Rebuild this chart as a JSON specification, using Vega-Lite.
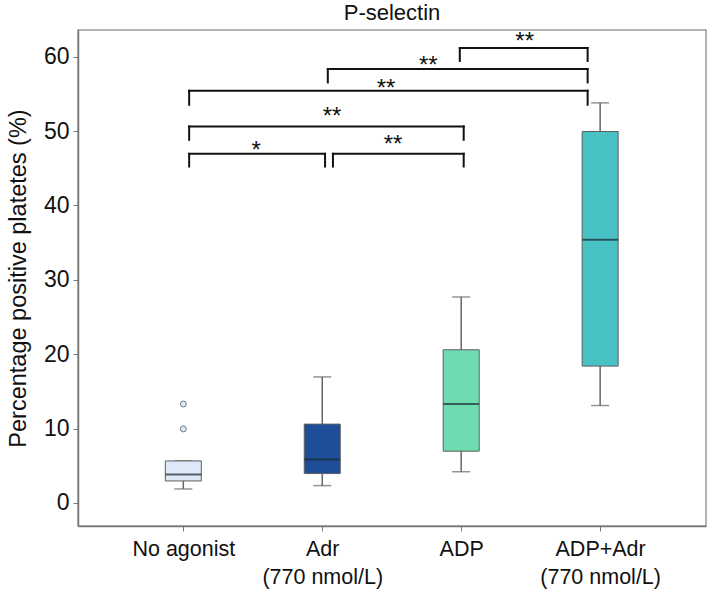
{
  "$schema": "https://vega.github.io/schema/vega-lite/v6.json",
  "width": 628,
  "height": 496,
  "autosize": {"type": "none"},
  "padding": {"left": 78, "top": 30, "right": 3, "bottom": 67},
  "background": "white",
  "config": {
    "view": {"stroke": "#9a9a9a", "strokeWidth": 1.5},
    "font": "Liberation Sans"
  },
  "title": {"text": "P-selectin", "fontSize": 22, "fontWeight": "normal", "color": "#111", "offset": 5, "anchor": "middle", "font": "Liberation Sans"},
  "datasets": {
    "boxes": [
      {"g": "No agonist", "x": 1, "lo": 1.88, "q1": 2.96, "med": 3.81, "q3": 5.65, "hi": 5.65},
      {"g": "Adr", "x": 2, "lo": 2.33, "q1": 3.95, "med": 5.83, "q3": 10.6, "hi": 16.95},
      {"g": "ADP", "x": 3, "lo": 4.2, "q1": 6.96, "med": 13.3, "q3": 20.6, "hi": 27.7},
      {"g": "ADP+Adr", "x": 4, "lo": 13.1, "q1": 18.4, "med": 35.4, "q3": 49.95, "hi": 53.8}
    ],
    "outliers": [
      {"g": "No agonist", "x": 1, "v": 13.3},
      {"g": "No agonist", "x": 1, "v": 9.96}
    ],
    "brackets": [
      {"x1": 2.99, "x2": 3.91, "yb": 61.17, "ye": 59.44, "lx": 3.457, "ly": 60.98, "s": "**"},
      {"x1": 2.04, "x2": 3.91, "yb": 58.35, "ye": 56.55, "lx": 2.763, "ly": 57.76, "s": "**"},
      {"x1": 1.042, "x2": 3.91, "yb": 55.43, "ye": 53.55, "lx": 2.459, "ly": 54.66, "s": "**"},
      {"x1": 1.042, "x2": 3.018, "yb": 50.63, "ye": 48.84, "lx": 2.07, "ly": 50.9, "s": "**"},
      {"x1": 1.042, "x2": 2.02, "yb": 46.95, "ye": 45.24, "lx": 1.524, "ly": 46.45, "s": "*"},
      {"x1": 2.077, "x2": 3.018, "yb": 46.95, "ye": 45.24, "lx": 2.51, "ly": 47.13, "s": "**"}
    ]
  },
  "layer": [
    {
      "data": {"name": "boxes"},
      "mark": {"type": "rule", "color": "#666666", "strokeWidth": 1.5},
      "encoding": {
        "x": {
          "field": "x", "type": "quantitative", "title": "",
          "scale": {"domain": [0.278, 4.726], "nice": false, "zero": false},
          "axis": {
            "values": [1, 2, 3, 4],
            "labelExpr": "datum.value == 1 ? 'No agonist' : datum.value == 2 ? ['Adr', '(770 nmol/L)'] : datum.value == 3 ? 'ADP' : ['ADP+Adr', '(770 nmol/L)']",
            "labelFontSize": 21.5, "labelColor": "#111", "labelFont": "Liberation Sans",
            "labelLineHeight": 28, "labelPadding": 7,
            "tickSize": 5, "tickColor": "#777", "domainColor": "#777", "domainWidth": 1.5,
            "grid": false, "labelFlush": false, "labelOverlap": false
          }
        },
        "y": {
          "field": "lo", "type": "quantitative", "title": "Percentage positive platetes (%)",
          "scale": {"domain": [-3.1, 63.6], "nice": false, "zero": false},
          "axis": {
            "values": [0, 10, 20, 30, 40, 50, 60],
            "titleFontSize": 23.5, "titleFontWeight": "normal", "titleColor": "#111", "titleFont": "Liberation Sans",
            "titleX": -60, "titleY": 248, "titleAngle": -90, "titleBaseline": "middle", "titleAlign": "center",
            "labelFontSize": 23, "labelColor": "#111", "labelFont": "Liberation Sans", "labelPadding": 4,
            "tickSize": 5, "tickColor": "#777", "domainColor": "#777", "domainWidth": 1.5,
            "grid": false, "labelFlush": false
          }
        },
        "y2": {"field": "hi"}
      }
    },
    {
      "data": {"name": "boxes"},
      "transform": [{"fold": ["lo", "hi"], "as": ["k", "v"]}],
      "mark": {"type": "tick", "orient": "horizontal", "size": 18, "thickness": 1.5, "color": "#666666"},
      "encoding": {
        "x": {"field": "x", "type": "quantitative"},
        "y": {"field": "v", "type": "quantitative"}
      }
    },
    {
      "data": {"name": "boxes"},
      "mark": {"type": "bar", "size": 36, "stroke": "#5f5f5f", "strokeWidth": 1, "opacity": 1},
      "encoding": {
        "x": {"field": "x", "type": "quantitative"},
        "y": {"field": "q1", "type": "quantitative"},
        "y2": {"field": "q3"},
        "fill": {
          "field": "g", "type": "nominal", "legend": null,
          "scale": {"domain": ["No agonist", "Adr", "ADP", "ADP+Adr"], "range": ["#dde9f7", "#1f4e98", "#6edcb0", "#49c2c6"]}
        }
      }
    },
    {
      "data": {"name": "boxes"},
      "mark": {"type": "tick", "orient": "horizontal", "size": 36, "thickness": 2, "color": "#1a2a2e"},
      "encoding": {
        "x": {"field": "x", "type": "quantitative"},
        "y": {"field": "med", "type": "quantitative"}
      }
    },
    {
      "data": {"name": "outliers"},
      "mark": {"type": "point", "filled": true, "size": 36, "fill": "#dbe8f3", "stroke": "#6d7f8c", "strokeWidth": 1, "opacity": 1},
      "encoding": {
        "x": {"field": "x", "type": "quantitative"},
        "y": {"field": "v", "type": "quantitative"}
      }
    },
    {
      "data": {"name": "brackets"},
      "mark": {"type": "rule", "color": "#111", "strokeWidth": 2, "strokeCap": "square"},
      "encoding": {
        "x": {"field": "x1", "type": "quantitative"},
        "x2": {"field": "x2"},
        "y": {"field": "yb", "type": "quantitative"}
      }
    },
    {
      "data": {"name": "brackets"},
      "transform": [{"fold": ["x1", "x2"], "as": ["k", "xv"]}],
      "mark": {"type": "rule", "color": "#111", "strokeWidth": 2, "strokeCap": "square"},
      "encoding": {
        "x": {"field": "xv", "type": "quantitative"},
        "y": {"field": "yb", "type": "quantitative"},
        "y2": {"field": "ye"}
      }
    },
    {
      "data": {"name": "brackets"},
      "mark": {"type": "text", "fontSize": 24, "color": "#111", "align": "center", "baseline": "alphabetic", "font": "Liberation Sans"},
      "encoding": {
        "x": {"field": "lx", "type": "quantitative"},
        "y": {"field": "ly", "type": "quantitative"},
        "text": {"field": "s"}
      }
    }
  ]
}
